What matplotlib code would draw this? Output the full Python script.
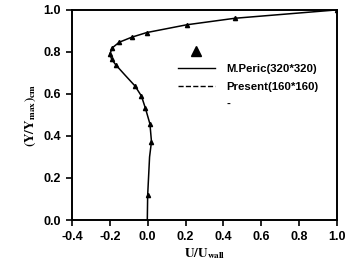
import numpy as np
import matplotlib
matplotlib.use('Agg')
import matplotlib.pyplot as plt
from matplotlib.lines import Line2D

## data
# M.Peric (320*320) triangles
peric_u = [0.0, 0.02, 0.012, -0.012, -0.033, -0.067, -0.168, -0.19, -0.2,
           -0.186, -0.15, -0.084, -0.005, 0.206, 0.46, 1.0]
peric_y = [0.119, 0.373, 0.457, 0.532, 0.59, 0.638, 0.738, 0.765, 0.79,
           0.82, 0.846, 0.87, 0.892, 0.929, 0.96, 1.0]
# Present (160*160) line
present_u = [-0.002, 0.0, 0.01, 0.02, 0.012, -0.012, -0.033, -0.067, -0.12,
             -0.168, -0.19, -0.2, -0.186, -0.15, -0.084, -0.005, 0.206, 0.46, 1.0]
present_y = [0.0, 0.119, 0.3, 0.373, 0.457, 0.532, 0.59, 0.638, 0.69,
             0.738, 0.765, 0.79, 0.82, 0.846, 0.87, 0.892, 0.929, 0.96, 1.0]

xticks = [-0.4, -0.2, 0.0, 0.2, 0.4, 0.6, 0.8, 1.0]
yticks = [0.0, 0.2, 0.4, 0.6, 0.8, 1.0]

plt.rcParams['font.family'] = ['Liberation Sans', 'DejaVu Sans']
plt.rcParams['font.weight'] = 'bold'
plt.rcParams['mathtext.fontset'] = 'stix'

fig = plt.figure(figsize=(3.49, 2.74), dpi=100)
ax = fig.add_axes([0.206, 0.197, 0.76, 0.767])

ax.plot(present_u, present_y, color='black', lw=1.1)
ax.plot(peric_u, peric_y, linestyle='none', marker='^', ms=3, color='black')

ax.set_xlim(-0.4, 1.0)
ax.set_ylim(0.0, 1.0)
ax.set_xticks(xticks)
ax.set_yticks(yticks)
ax.set_xticklabels(['%.1f' % v for v in xticks])
ax.set_yticklabels(['%.1f' % v for v in yticks])
ax.tick_params(direction='out', length=4, width=1.2, labelsize=9, pad=4)
for s in ax.spines.values():
    s.set_linewidth(1.4)

ax.set_xlabel(r'$\mathbf{U/U_{wall}}$', fontsize=9.5, labelpad=2)
ax.set_ylabel(r'$\mathbf{(Y/Y_{max})_{cm}}$', fontsize=9.5, labelpad=4)

# legend, laid out like the original
handles = [Line2D([], [], linestyle='none', marker='^', ms=7, color='black'),
           Line2D([], [], color='black', lw=1.0),
           Line2D([], [], color='black', lw=1.0, linestyle='--'),
           Line2D([], [], linestyle='none')]
labels = ['', 'M.Peric(320*320)', 'Present(160*160)', '-']
ax.legend(handles, labels, loc='upper left', bbox_to_anchor=(0.377, 0.85),
          frameon=False, fontsize=8.2, handlelength=3.3, handletextpad=1.0,
          labelspacing=0.65, borderpad=0)

fig.savefig('out.png', dpi=100)
